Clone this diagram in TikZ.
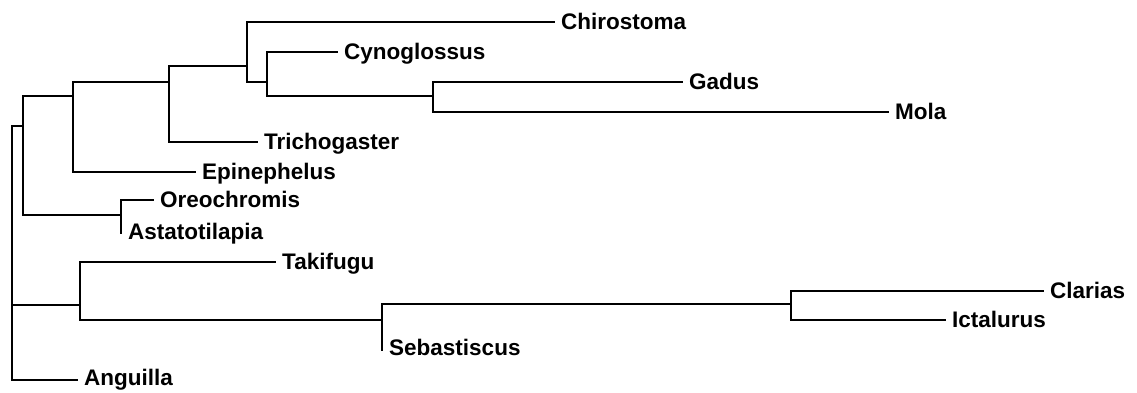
\documentclass[tikz,border=0pt]{standalone}
\usepackage{fontspec}
\setmainfont{Liberation Sans}
\begin{document}
\begin{tikzpicture}[x=1pt,y=-1pt,
  edge/.style={line width=1.5pt,line cap=rect},
  leaf/.style={anchor=west,inner xsep=7pt,inner ysep=0pt,text height=15pt,text depth=0pt,
    font=\fontsize{22.5}{23}\selectfont\bfseries}]
\useasboundingbox[fill=white] (0,0) rectangle (1137,392);
% internal nodes
\coordinate (R) at (12,126);
\coordinate (A) at (23,126);
\coordinate (B) at (73,96);
\coordinate (C) at (169,82);
\coordinate (D) at (247,66);
\coordinate (E) at (267,82);
\coordinate (F) at (433,96);
\coordinate (O) at (121,215);
\coordinate (G) at (80,305);
\coordinate (H) at (382,320);
\coordinate (I) at (791,304);
% leaves
\node[leaf] (chi) at (554,22) {Chirostoma};
\node[leaf] (cyn) at (337,52) {Cynoglossus};
\node[leaf] (gad) at (682,82) {Gadus};
\node[leaf] (mol) at (888,112) {Mola};
\node[leaf] (tri) at (257,142) {Trichogaster};
\node[leaf] (epi) at (195,172) {Epinephelus};
\node[leaf] (ore) at (153,200) {Oreochromis};
\node[leaf] (ast) at (121,232) {Astatotilapia};
\node[leaf] (tak) at (275,262) {Takifugu};
\node[leaf] (seb) at (382,348) {Sebastiscus};
\node[leaf] (cla) at (1043,291) {Clarias};
\node[leaf] (ict) at (945,320) {Ictalurus};
\node[leaf,text height=11pt] (ang) at (77,380) {Anguilla};
% edges
\draw[edge] (R) |- (A);
\draw[edge] (R) |- (G);
\draw[edge] (R) |- (ang.west);
\draw[edge] (A) |- (B);
\draw[edge] (A) |- (O);
\draw[edge] (B) |- (C);
\draw[edge] (B) |- (epi.west);
\draw[edge] (C) |- (D);
\draw[edge] (C) |- (tri.west);
\draw[edge] (D) |- (chi.west);
\draw[edge] (D) |- (E);
\draw[edge] (E) |- (cyn.west);
\draw[edge] (E) |- (F);
\draw[edge] (F) |- (gad.west);
\draw[edge] (F) |- (mol.west);
\draw[edge] (O) |- (ore.west);
\draw[edge] (O) -- ([yshift=-1pt]O |- ast.west);
\draw[edge] (G) |- (tak.west);
\draw[edge] (G) |- (H);
\draw[edge] (H) |- (I);
\draw[edge] (H) -- ([yshift=-2pt]H |- seb.west);
\draw[edge] (I) |- (cla.west);
\draw[edge] (I) |- (ict.west);
\end{tikzpicture}
\end{document}
